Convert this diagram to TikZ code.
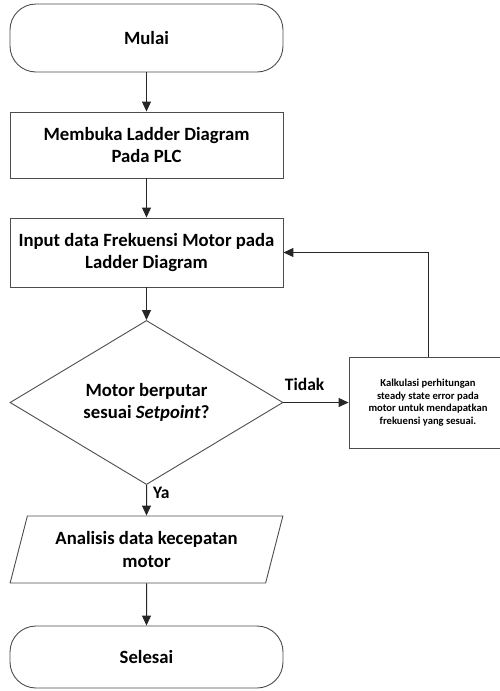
\documentclass[tikz,border=0pt]{standalone}
\usepackage{fontspec}
\setmainfont{Carlito}
\usetikzlibrary{shapes.geometric,arrows.meta}
\begin{document}
\begin{tikzpicture}[x=1pt,y=-1pt,
  every node/.style={font=\bfseries\fontsize{18.7}{22}\selectfont, align=center, inner sep=0pt},
  term/.style={draw=black!70, line width=0.9pt, rounded corners=26pt, minimum width=273pt},
  proc/.style={draw=black!70, line width=0.9pt, minimum width=273pt},
  dec/.style={draw=black!70, line width=0.9pt, diamond, minimum width=273pt, minimum height=149pt},
  io/.style={draw=black!70, line width=0.9pt, trapezium, trapezium left angle=69.5, trapezium right angle=110.5, trapezium stretches=true, minimum width=273pt, minimum height=67pt},
  conn/.style={draw=black!85, line width=1pt, -{Triangle[length=10pt,width=9pt]}},
  lbl/.style={font=\bfseries\fontsize{17.5}{20}\selectfont}
]
\useasboundingbox (0,0) rectangle (500,691);
\node[term, minimum height=68pt] (mulai) at (146.5,38) {Mulai};
\node[proc, minimum height=66pt] (b1) at (146.5,145) {Membuka Ladder Diagram\\Pada PLC};
\node[proc, minimum height=69pt] (b2) at (146.5,252.5) {Input data Frekuensi Motor pada\\Ladder Diagram};
\node[dec] (d) at (146.5,402.5) {Motor berputar\\sesuai \textit{Setpoint}?};
\node[proc, minimum width=158pt, minimum height=91pt, font=\bfseries\fontsize{10.6}{12.5}\selectfont] (b3) at (428,402.5) {Kalkulasi perhitungan\\steady state error pada\\motor untuk mendapatkan\\frekuensi yang sesuai.};
\node[io] (p) at (146.5,549.5) {Analisis data kecepatan\\motor};
\node[term, minimum height=62pt] (sel) at (146.5,657) {Selesai};
\draw[conn] (mulai) -- (b1);
\draw[conn] (b1) -- (b2);
\draw[conn] (b2) -- (d);
\draw[conn] (d.east) -- node[lbl, pos=0, anchor=south west, xshift=1pt, yshift=11pt] {Tidak} (b3.west);
\draw[conn] (b3.north) |- (b2.east);
\draw[conn] (d.south) -- node[lbl, pos=0, anchor=north west, xshift=6pt, yshift=-2pt] {Ya} (p.north);
\draw[conn] (p) -- (sel);
\end{tikzpicture}
\end{document}
